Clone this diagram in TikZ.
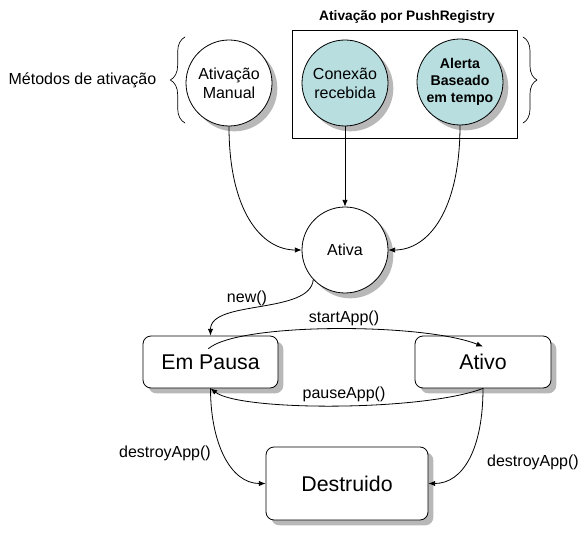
\documentclass[tikz,border=0pt]{standalone}
\usepackage{fontspec}
\setmainfont{Liberation Sans}
\usetikzlibrary{arrows.meta,shadows,calc,decorations.pathreplacing}
\definecolor{azulclaro}{RGB}{184,222,224}
\begin{document}
\begin{tikzpicture}[x=0.75pt, y=0.75pt, line join=round, line cap=round, >={Latex[length=5pt,width=4pt]},
	sombra/.style={drop shadow={shadow xshift=4pt, shadow yshift=-4pt, fill=black!28, opacity=1}},
	estado/.style={circle, draw, line width=0.6pt, fill=white, minimum size=64.5pt, inner sep=0pt, align=center, font=\fontsize{12}{14.25}\selectfont, sombra},
	push/.style={estado, fill=azulclaro},
	caixa/.style={rectangle, rounded corners=6pt, draw, line width=0.6pt, fill=white, minimum height=39pt, font=\fontsize{16}{19}\selectfont, sombra},
	rotulo/.style={font=\fontsize{12}{14}\selectfont},
	seta/.style={->, line width=0.6pt}]
			\useasboundingbox (0,0) rectangle (586,540);
			%\draw[color=gray!50,dashed] (0,0) grid[step=20] (586,540);
			\node (titulo) at (407,523) {\fontsize{10.3}{12}\selectfont\bfseries Ativação por PushRegistry};
			\draw[line width=0.6pt] (292,510) rectangle (517,402);
			\node[estado] (manual) at (229,457) {Ativação\\Manual};
			\node[push] (conexao) at (345,457) {Conexão\\recebida};
			\node[push, font=\fontsize{10.6}{12.75}\selectfont\bfseries] (alerta) at (460,458) {Alerta\\Baseado\\em tempo};
			\node[estado] (ativa) at (345,290) {Ativa};
			\draw[decorate, decoration={brace, amplitude=11pt}, line width=0.5pt] (185,417) -- (185,503);
			\draw[decorate, decoration={brace, amplitude=10.5pt}, line width=0.5pt] (523,503) -- (523,417);
			\node[rotulo, anchor=east] (metodos) at (161,460) {Métodos de ativação};
			\node[caixa, minimum width=101.25pt] (empausa) at (210.5,178) {Em Pausa};
			\node[caixa, minimum width=102pt] (ativo) at (483,178) {Ativo};
			\node[caixa, minimum width=121.5pt, minimum height=54.75pt] (destruido) at (347,56.5) {Destruido};
			\draw[seta] (manual.south) .. controls +(0,-85) and +(-40,0) .. (ativa.west);
			\draw[seta] (conexao.south) -- (ativa.north);
			\draw[seta] (alerta.south) .. controls +(0,-85) and +(40,0) .. (ativa.east);
			\draw[seta] (ativa.223) .. controls +(-3,-35) and +(0,36) .. (empausa.north);
			\draw[seta] ($(empausa.north)+(-2,-13)$) .. controls +(30,26) and +(-60,24) .. ($(ativo.north)+(0,-11)$);
			\draw[seta] (ativo.south) .. controls +(-60,-23) and +(30,-23) .. (empausa.south);
			\draw[seta] (empausa.south) .. controls +(0,-55) and +(-35,0) .. (destruido.west);
			\draw[seta] (ativo.south) .. controls +(0,-60) and +(35,0) .. (destruido.east);
			\node[rotulo] (lnew) at (247,242) {new()};
			\node[rotulo] (lstart) at (344,222) {startApp()};
			\node[rotulo] (lpause) at (344,146) {pauseApp()};
			\node[rotulo] (ldestroyA) at (165,87) {destroyApp()};
			\node[rotulo] (ldestroyB) at (533,78) {destroyApp()};
		\end{tikzpicture}
\end{document}
